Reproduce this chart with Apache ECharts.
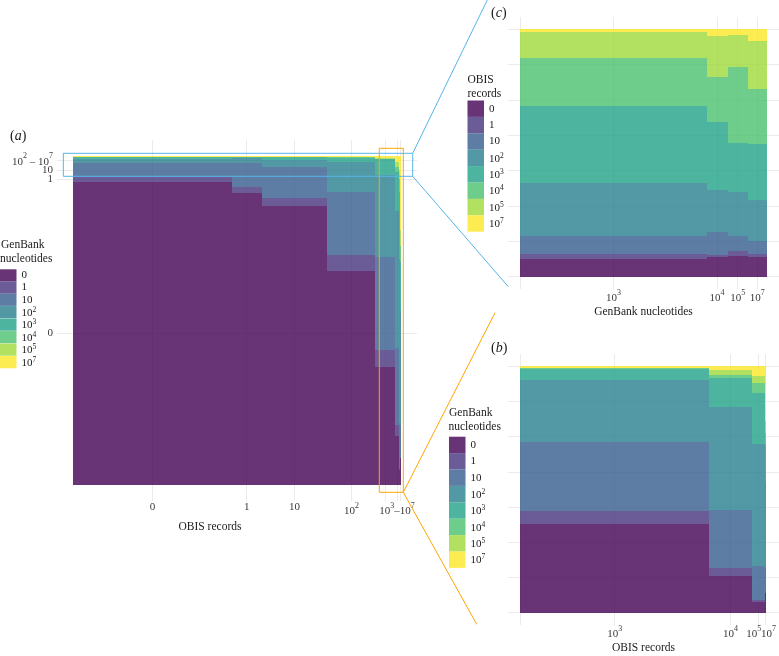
<!DOCTYPE html>
<html><head><meta charset="utf-8">
<script src="https://cdn.jsdelivr.net/npm/echarts@6/dist/echarts.min.js"></script>
<style>html,body{margin:0;padding:0;background:#fff}#c{width:779px;height:656px}</style>
</head><body><div id="c"></div>
<script>
// ---------------- DATA ----------------
const levels = ['0','1','10','10^2','10^3','10^4','10^5','10^7'];
const viridis = ['#440154','#46337E','#365C8D','#277F8E','#1FA187','#4AC16D','#9FDA3A','#FDE725'];

// Panel (a) / (b): columns = OBIS record classes, width = relative number of species
const obisClasses = ['0','1','10','10^2','10^3','10^4','10^5','10^7'];
const obisCounts = [1583, 300, 657, 480, 193, 43.8, 12.9, 1.7];
// share of each GenBank nucleotide class (0 ... 10^7) within each OBIS class
const gbShare_obis0   = [301.6, 5.0, 13.7, 4.5, 1.2, 0.5, 0.3, 0.2];
const gbShare_obis1   = [291.0, 5.6, 23.7, 5.0, 1.0, 0.4, 0.2, 0.1];
const gbShare_obis10  = [277.6, 8.2, 30.2, 7.8, 2.2, 0.5, 0.3, 0.2];
const gbShare_obis1e2 = [212.6, 15.7, 63.3, 29.7, 4.3, 0.6, 0.4, 0.4];
const gbShare_obis1e3 = [88.3, 13.0, 69.3, 61.7, 11.7, 0.5, 0.5, 1.3];
const gbShare_obis1e4 = [36.3, 8.7, 57.3, 103.3, 29.0, 3.4, 4.3, 4.0];
const gbShare_obis1e5 = [10.6, 1.7, 34.0, 122.7, 50.6, 10.0, 6.7, 10.0];
const gbShare_obis1e7 = [20.0, 0.0, 25.0, 85.0, 37.0, 12.0, 12.0, 55.0];
const genbankShareByObis = [gbShare_obis0, gbShare_obis1, gbShare_obis10, gbShare_obis1e2,
                            gbShare_obis1e3, gbShare_obis1e4, gbShare_obis1e5, gbShare_obis1e7];

// Panel (c): columns = GenBank nucleotide classes, fill = OBIS record classes
const genbankClassesC = ['10^3','10^4','10^5','10^7'];
const genbankCountsC = [186, 21, 20, 19];
const obShare_gb1e3 = [53, 15, 55, 158, 231, 143, 76, 9];
const obShare_gb1e4 = [60, 5, 68, 127, 203, 133, 124, 20];
const obShare_gb1e5 = [63, 15, 45, 130, 148, 227, 95, 17];
const obShare_gb1e7 = [58, 10, 38, 122, 168, 165, 144, 35];
const obisShareByGenbank = [obShare_gb1e3, obShare_gb1e4, obShare_gb1e5, obShare_gb1e7];

// tick labels
const xTickLabelsA = ['0','1','10','10^2','','10^3–10^7','',''];
const yTickLabelsA = ['0','1','10','10^2 – 10^7'];
const xTickLabelsB = ['10^3','10^4','10^5','10^7'];
const xTickLabelsC = ['10^3','10^4','10^5','10^7'];
const nHorizGridBC = 7;

// ---------------- HELPERS ----------------
const FONT = '"Liberation Serif","DejaVu Serif",serif';
const TXT = '#3a3a3a';
const BLACK = '#1a1a1a';
function rgba(hex, a){const n=parseInt(hex.slice(1),16);return `rgba(${n>>16},${(n>>8)&255},${n&255},${a})`;}
const fills = viridis.map(c => rgba(c, 0.8));
const sum = a => a.reduce((s,v)=>s+v,0);

function mosaic(widths, shares){
  const tot = sum(widths); let x = 0;
  return widths.map((w,i)=>{
    const x0 = x/tot; x += w; const x1 = x/tot;
    const st = sum(shares[i]); let y = 0;
    const cells = shares[i].map((v,k)=>{const y0=y/st; y+=v; return [x0,x1,y0,y/st,k];});
    return {x0,x1,center:(x0+x1)/2,cells};
  });
}
const colsA = mosaic(obisCounts, genbankShareByObis);
const colsB = mosaic(obisCounts.slice(4), genbankShareByObis.slice(4));
const colsC = mosaic(genbankCountsC, obisShareByGenbank);

// rich-text label with superscripts
function fmt(label, pre, post, legend){
  if (!label) return '';
  const sfx = legend ? 'L' : '';
  if (label.indexOf('^') < 0) return '{b' + sfx + '|' + label + '}';
  const parts = label.split(/\^(\d)/);
  let out = '';
  const idx = [];
  parts.forEach((p,i)=>{ if (p!=='') idx.push(i); });
  idx.forEach((i,j)=>{
    let st = (i%2 ? 's' : 'B') + sfx;
    if (j===0 && pre) st += 'pre';
    if (j===idx.length-1 && post) st += 'post';
    out += '{' + st + '|' + parts[i] + '}';
  });
  return out;
}
function richTick(plainLH){
  return {
    b:{fontFamily:FONT,fontSize:11,color:TXT,lineHeight:plainLH},
    B:{fontFamily:FONT,fontSize:11,color:TXT,lineHeight:11,verticalAlign:'bottom'},
    s:{fontFamily:FONT,fontSize:8,color:TXT,verticalAlign:'top',padding:[0,0,7,0]},
    Bpre:{fontFamily:FONT,fontSize:11,color:TXT,lineHeight:11,verticalAlign:'bottom',padding:[0,0,0,6]},
    spost:{fontFamily:FONT,fontSize:8,color:TXT,verticalAlign:'top',padding:[0,9,7,0]}
  };
}
const richLegend = {
  bL:{fontFamily:FONT,fontSize:11,color:BLACK,lineHeight:11},
  BL:{fontFamily:FONT,fontSize:11,color:BLACK,lineHeight:9,verticalAlign:'bottom'},
  sL:{fontFamily:FONT,fontSize:7.5,color:BLACK,verticalAlign:'top',padding:[0,0,4.5,0]}
};
function labelMap(vals, labels){const m={};vals.forEach((v,i)=>m[v.toFixed(6)]=labels[i]);return m;}

// tick positions
const xValsA = colsA.map(c=>c.center);
const xLabMapA = labelMap(xValsA, xTickLabelsA);
const c1 = colsA[0].cells;
const yValsA = [ (c1[0][2]+c1[0][3])/2, (c1[1][2]+c1[1][3])/2, (c1[2][2]+c1[2][3])/2, (c1[3][2]+1)/2 ];
const yLabMapA = labelMap(yValsA, yTickLabelsA);
const xValsB = [0].concat(colsB.map(c=>c.center));
const xLabMapB = labelMap(xValsB, [''].concat(xTickLabelsB));
const xValsC = [0].concat(colsC.map(c=>c.center));
const xLabMapC = labelMap(xValsC, [''].concat(xTickLabelsC));
const yValsBC = Array.from({length:nHorizGridBC+1},(_,i)=>i/nHorizGridBC);

const gridLine = {show:true,lineStyle:{color:'#EBEBEB',width:1}};
function valAxis(gridIndex, tickVals, labelVals, formatter, margin, extra){
  return Object.assign({
    type:'value', gridIndex, min:-0.05, max:1.05,
    axisLine:{show:false},
    axisTick:{show:false, customValues: tickVals},
    splitLine: tickVals ? gridLine : {show:false},
    axisLabel:{show: !!formatter, customValues: labelVals || tickVals, margin: margin||0, hideOverlap:false,
      showMinLabel:true, showMaxLabel:true,
      formatter: formatter || (()=>''), rich: richTick(11)}
  }, extra||{});
}

// ---------------- SERIES ----------------
function rectSeries(cols, xi, yi, prefix){
  return levels.map((lv,k)=>({
    type:'custom', name: prefix + lv, xAxisIndex: xi, yAxisIndex: yi,
    itemStyle:{color: fills[k]},
    encode:{x:[0,1], y:[2,3]},
    data: cols.map(c=>c.cells[k]),
    renderItem:(params, api)=>{
      const p0 = api.coord([api.value(0), api.value(3)]);
      const p1 = api.coord([api.value(1), api.value(2)]);
      const x0 = Math.round(p0[0]), x1 = Math.max(Math.round(p1[0]), x0 + (p1[0]-p0[0] > 0.05 ? 1 : 0));
      const y0 = Math.round(p0[1]), y1 = Math.round(p1[1]);
      return {type:'rect', shape:{x:x0, y:y0, width:x1-x0, height:y1-y0},
              style:{fill: fills[k]}};
    }
  }));
}
const gNames = levels.map(l=>'GenBank '+l);
const oNames = levels.map(l=>'OBIS '+l);
function legendCfg(left, top, h, names){
  return {orient:'vertical', left, top, padding:0, itemGap:0, itemWidth:16.5, itemHeight:h,
    icon:'rect', selectedMode:false, data:names,
    formatter: n => fmt(n.split(' ')[1], false, false, true),
    textStyle:{rich: richLegend, fontFamily:FONT, fontSize:11, color:BLACK}};
}

// ---------------- ANNOTATIONS ----------------
const BLUE = '#56B4E9', ORANGE = '#FFA500';
function txt(x,y,text,size,align,extra){
  return {type:'text', z:100, style:Object.assign({x,y,text,fontFamily:FONT,fontSize:size,fill:BLACK,
    align:align||'left',verticalAlign:'middle'}, extra||{})};
}
const italic = {i:{fontStyle:'italic',fontFamily:FONT,fontSize:14,fill:BLACK}};
const graphic = [
  txt(10,136,'({i|a})',14,'left',{rich:italic}),
  txt(491,13,'({i|c})',14,'left',{rich:italic}),
  txt(491,348,'({i|b})',14,'left',{rich:italic}),
  txt(1,245,'GenBank',11.5), txt(0,259,'nucleotides',11.5),
  txt(467.5,80,'OBIS',11.5), txt(467.5,94,'records',11.5),
  txt(449,412.5,'GenBank',11.5), txt(448.5,427,'nucleotides',11.5),
  txt(210,527,'OBIS records',11.5,'center'),
  txt(643.5,311.5,'GenBank nucleotides',11.5,'center'),
  txt(643.5,648,'OBIS records',11.5,'center'),
  {type:'rect', z:90, shape:{x:63.3,y:153.3,width:349.4,height:23}, style:{fill:'none',stroke:BLUE,lineWidth:1}},
  {type:'line', z:90, shape:{x1:412.7,y1:153.3,x2:487.3,y2:0}, style:{stroke:BLUE,lineWidth:1}},
  {type:'line', z:90, shape:{x1:412.7,y1:176.3,x2:508.3,y2:286.7}, style:{stroke:BLUE,lineWidth:1}},
  {type:'rect', z:91, shape:{x:379.3,y:148.3,width:24,height:344}, style:{fill:'none',stroke:ORANGE,lineWidth:1}},
  {type:'line', z:91, shape:{x1:403.3,y1:492.3,x2:495,y2:312.7}, style:{stroke:ORANGE,lineWidth:1}},
  {type:'line', z:91, shape:{x1:403.3,y1:492.3,x2:476.7,y2:624.3}, style:{stroke:ORANGE,lineWidth:1}}
];

const fmtA = v => fmt(xLabMapA[v.toFixed(6)]||'');
const fmtC = v => fmt(xLabMapC[v.toFixed(6)]||'');
const fmtB = v => {const l=xLabMapB[v.toFixed(6)]||''; const i=xTickLabelsB.indexOf(l);
  return fmt(l, i===3, i===2, false);};
const fmtYA = v => fmt(yLabMapA[v.toFixed(6)]||'');

// (a) y labels sit close together: spread them over twin axes so none is auto-hidden
const yAxisA  = valAxis(0, yValsA, [yValsA[0], yValsA[2]], fmtYA, 4, {position:'left'});
const yAxisA2 = valAxis(0, null, [yValsA[1]], fmtYA, 4, {position:'left'});
const yAxisA3 = valAxis(0, null, [yValsA[3]], fmtYA, 4, {position:'left'});
// (b): twin x axis carries the last (10^7) label
const xAxisB  = valAxis(2, xValsB, xValsB.slice(0,4), fmtB, 0, {position:'bottom'});
const xAxisB2 = valAxis(2, null, xValsB.slice(4), fmtB, 0, {position:'bottom'});

const option = {
  animation:false,
  backgroundColor:'#fff',
  grid:[
    {left:57, top:140, width:360, height:361},
    {left:508, top:17, width:271, height:272},
    {left:508, top:354, width:271, height:271}
  ],
  xAxis:[
    valAxis(0, xValsA, null, fmtA, 1),
    valAxis(1, xValsC, null, fmtC, 0),
    xAxisB,
    xAxisB2
  ],
  yAxis:[
    yAxisA,
    valAxis(1, yValsBC, null, null),
    valAxis(2, yValsBC, null, null),
    yAxisA2,
    yAxisA3
  ],
  legend:[
    legendCfg(0, 269.3, 12.2, gNames),
    legendCfg(467.5, 100.5, 16.4, oNames),
    legendCfg(449, 436.7, 16.4, gNames)
  ],
  series: [].concat(rectSeries(colsA,0,0,'GenBank '), rectSeries(colsC,1,1,'OBIS '), rectSeries(colsB,2,2,'GenBank ')),
  graphic
};
const chart = echarts.init(document.getElementById('c'));
chart.setOption(option);
</script></body></html>
